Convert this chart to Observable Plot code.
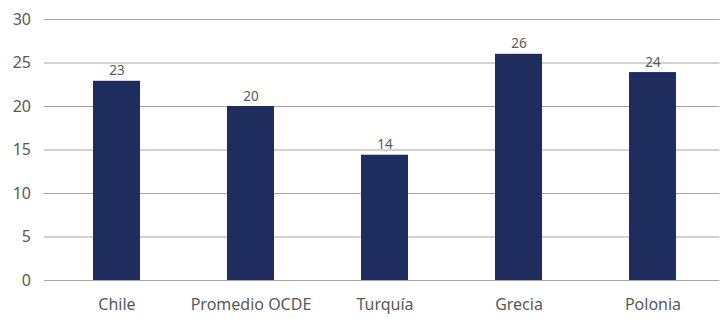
<!DOCTYPE html>
<html>
<head>
<meta charset="utf-8">
<script src="https://cdn.jsdelivr.net/npm/d3@7"></script>
<script src="https://cdn.jsdelivr.net/npm/@observablehq/plot@0.6"></script>
<style>
  html, body { margin: 0; padding: 0; background: #fff; }
  #chart svg { display: block; }
</style>
</head>
<body>
<div id="chart"></div>
<script>
const categories = ["Chile", "Promedio OCDE", "Turquía", "Grecia", "Polonia"];
const values = [22.9, 20.0, 14.4, 26.0, 23.9];
const valueLabels = ["23", "20", "14", "26", "24"];
const yTicks = [0, 5, 10, 15, 20, 25, 30];

const data = categories.map((c, i) => ({category: c, value: values[i], label: valueLabels[i]}));

const chart = Plot.plot({
  width: 720,
  height: 319,
  marginTop: 19,
  marginBottom: 39,
  marginLeft: 49.5,
  marginRight: 0.5,
  style: {fontFamily: "'Noto Sans', sans-serif", color: "#595959", background: "#fff"},
  x: {domain: categories, paddingInner: 0.65, paddingOuter: 0.325, label: null},
  y: {domain: [0, 30], ticks: yTicks, label: null},
  marks: [
    Plot.ruleY(yTicks, {stroke: "#a6a6a6", strokeWidth: 1, insetLeft: -5.5}),
    Plot.barY(data, {x: "category", y: "value", fill: "#1f2d5e"}),
    Plot.text(data, {x: "category", y: "value", text: "label", dy: -6, textAnchor: "middle", lineAnchor: "bottom", fontSize: 13.5, fill: "#595959"}),
    Plot.axisY({ticks: yTicks, tickSize: 0, tickPadding: 19, fontSize: 16, fill: "#595959", label: null}),
    Plot.axisX({tickSize: 0, tickPadding: 18, fontSize: 16, fill: "#595959", label: null})
  ]
});
document.getElementById("chart").appendChild(chart);
</script>
</body>
</html>
